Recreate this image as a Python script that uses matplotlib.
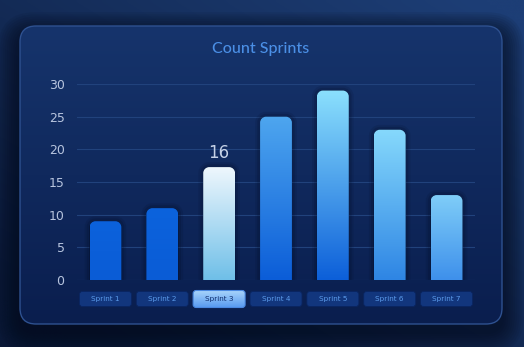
import numpy as np
import matplotlib
matplotlib.use("Agg")
import matplotlib.pyplot as plt
from matplotlib.patches import FancyBboxPatch, PathPatch
from matplotlib.path import Path
from matplotlib.colors import LinearSegmentedColormap, to_rgb
import matplotlib.patheffects as pe

# --- data ---
sprints = ["Sprint 1", "Sprint 2", "Sprint 3", "Sprint 4", "Sprint 5", "Sprint 6", "Sprint 7"]
counts = [9, 11, 16, 25, 29, 23, 13]
highlight = 2  # Sprint 3 is the hovered bar
y_ticks = [0, 5, 10, 15, 20, 25, 30]

# --- style ---
W, H = 524, 347
bar_tops = ["#0c62dc", "#0c63dd", "#eef7fd", "#4ea6ef", "#8be0fd", "#86d9fc", "#7fcdf8"]
bar_bottoms = ["#0a5cd6", "#0a5cd6", "#6fbfe8", "#0b5dd8", "#0c5fd9", "#2e85e4", "#3e90eb"]
highlight_scale = 1.08


def vgrad(ax, extent, first, last, **kw):
    # first colour at extent[2], last colour at extent[3]
    cmap = LinearSegmentedColormap.from_list("g", [first, last])
    arr = np.linspace(0, 1, 256).reshape(-1, 1)
    return ax.imshow(arr, cmap=cmap, extent=extent, origin="lower",
                     aspect="auto", interpolation="bicubic", **kw)


def round_top_path(x0, x1, y0, y1, rx, ry):
    k = 0.5523
    verts = [(x0, y0), (x0, y1 - ry),
             (x0, y1 - ry + k * ry), (x0 + rx - k * rx, y1), (x0 + rx, y1),
             (x1 - rx, y1),
             (x1 - rx + k * rx, y1), (x1, y1 - ry + k * ry), (x1, y1 - ry),
             (x1, y0), (x0, y0)]
    codes = [Path.MOVETO, Path.LINETO,
             Path.CURVE4, Path.CURVE4, Path.CURVE4,
             Path.LINETO,
             Path.CURVE4, Path.CURVE4, Path.CURVE4,
             Path.LINETO, Path.CLOSEPOLY]
    return Path(verts, codes)


fig = plt.figure(figsize=(W / 100, H / 100), dpi=100)

# --- background in pixel coords (y goes down) ---
bg = fig.add_axes([0, 0, 1, 1], zorder=0)
bg.set_xlim(0, W)
bg.set_ylim(H, 0)
bg.axis("off")

yy, xx = np.mgrid[0:1:100j, 0:1:150j]
t = np.clip(0.55 * xx + 0.6 * (1 - yy) - 0.1, 0, 1)[..., None]
c0 = np.array(to_rgb("#0a1836"))
c1 = np.array(to_rgb("#1d3e76"))
bg.imshow(c0 + (c1 - c0) * t, extent=(0, W, H, 0), aspect="auto",
          interpolation="bicubic", zorder=0)

cx0, cy0, cx1, cy1 = 20, 26, 502, 324
# card shadow
for i in range(10):
    grow = 2 + i * 2.2
    bg.add_patch(FancyBboxPatch((cx0 - grow, cy0 - grow + 8), (cx1 - cx0) + 2 * grow,
                                (cy1 - cy0) + 2 * grow,
                                boxstyle="round,pad=0,rounding_size=%d" % (16 + grow),
                                fc="#040a1a", ec="none", alpha=0.08, zorder=1))

card = FancyBboxPatch((cx0, cy0), cx1 - cx0, cy1 - cy0,
                      boxstyle="round,pad=0,rounding_size=16",
                      fc="none", ec="#2e5190", lw=1.0, zorder=3)
bg.add_patch(card)
cimg = vgrad(bg, (cx0, cx1, cy0, cy1), "#16346c", "#0a1e4e", zorder=2)
cimg.set_extent((cx0, cx1, cy0, cy1))
cimg.set_clip_path(card)

bg.text((cx0 + cx1) / 2, 49, "Count Sprints", ha="center", va="center",
        fontsize=11.5, color="#4b8fe6", family="Lato", weight="medium", zorder=4)

# --- main chart ---
ax_l, ax_r, ax_t, ax_b = 77, 475, 84, 280
ax = fig.add_axes([ax_l / W, 1 - ax_b / H, (ax_r - ax_l) / W, (ax_b - ax_t) / H], zorder=2)
ax.set_facecolor("none")
for s in ax.spines.values():
    s.set_visible(False)

x = np.arange(len(sprints))
heights = [c * (highlight_scale if i == highlight else 1) for i, c in enumerate(counts)]
bars = ax.bar(x, heights, width=0.56, color="none", zorder=1)
ax.set_xlim(-0.5, len(sprints) - 0.5)
ax.set_ylim(0, 30)
ax.set_yticks(y_ticks)
ax.yaxis.grid(True, color="#21427c", lw=0.8)
ax.set_axisbelow(True)
ax.tick_params(axis="y", length=0, pad=9, labelsize=9, labelcolor="#b7c4de")

px_x = (ax_r - ax_l) / len(sprints)
px_y = (ax_b - ax_t) / 30.0
rx, ry = 6 / px_x, 6 / px_y

for i, b in enumerate(bars):
    x0, w, h = b.get_x(), b.get_width(), b.get_height()
    path = round_top_path(x0, x0 + w, 0, h, rx, ry)
    shadow = PathPatch(path, fc="#061434", ec="none", lw=0, zorder=2,
                       path_effects=[pe.Stroke(linewidth=7, foreground="#030c24", alpha=0.12),
                                     pe.Stroke(linewidth=4, foreground="#030c24", alpha=0.18),
                                     pe.Normal()])
    ax.add_patch(shadow)
    clip = PathPatch(path, fc="none", ec="none", transform=ax.transData)
    im = vgrad(ax, (x0, x0 + w, 0, h), bar_bottoms[i], bar_tops[i], zorder=3)
    im.set_clip_path(clip)

ax.set_xlim(-0.5, len(sprints) - 0.5)
ax.set_ylim(0, 30)

ax.annotate(str(counts[highlight]), (x[highlight], heights[highlight]),
            xytext=(0, 4), textcoords="offset points", ha="center", va="bottom",
            fontsize=12, color="#c5d1e6", zorder=5)

# x tick labels sit on pills
ax.set_xticks(x)
ax.set_xticklabels(sprints)
ax.tick_params(axis="x", length=0, pad=14, labelsize=5.2)
for i, lab in enumerate(ax.get_xticklabels()):
    lab.set_va("center")
    lab.set_color("#0e2c6b" if i == highlight else "#5c9cec")

pill_w, pill_h = 52, 15
pill_cy = 299
for i in range(len(sprints)):
    cx = ax.transData.transform((x[i], 0))[0]
    px0 = cx - pill_w / 2
    if i == highlight:
        top, bot = pill_cy - pill_h / 2 - 1, pill_cy + pill_h / 2 + 1
        pill = FancyBboxPatch((px0, top), pill_w, bot - top,
                              boxstyle="round,pad=0,rounding_size=3",
                              fc="none", ec="#4a88e0", lw=0.8, zorder=6)
        bg.add_patch(pill)
        g = vgrad(bg, (px0, px0 + pill_w, top, bot), "#aad6fb", "#5a9bf0", zorder=5)
        g.set_extent((px0, px0 + pill_w, top, bot))
        g.set_clip_path(pill)
    else:
        pill = FancyBboxPatch((px0, pill_cy - pill_h / 2), pill_w, pill_h,
                              boxstyle="round,pad=0,rounding_size=3",
                              fc="#12367d", ec="#0a2560", lw=0.6, zorder=5)
        bg.add_patch(pill)

fig.savefig("out.png", dpi=100)
